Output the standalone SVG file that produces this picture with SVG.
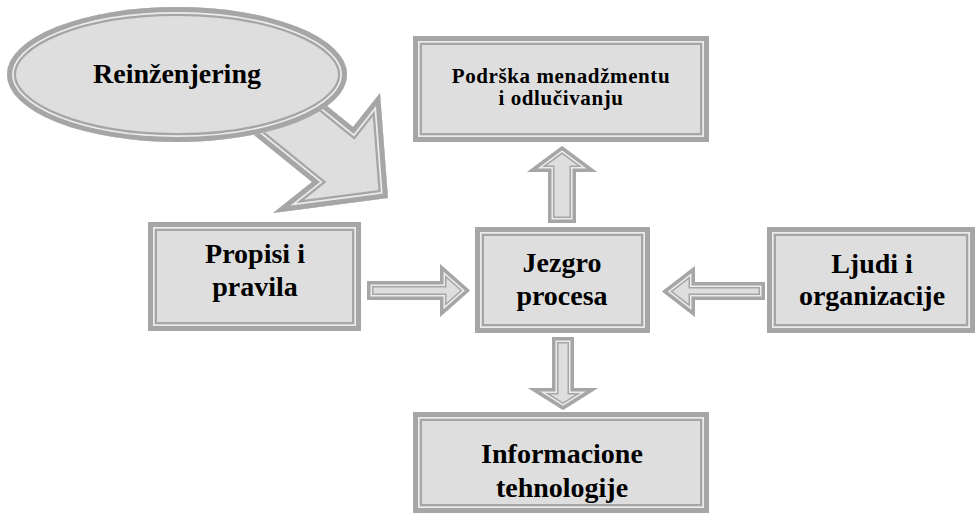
<svg xmlns="http://www.w3.org/2000/svg" width="979" height="515" viewBox="0 0 979 515">
<style>
.f{fill:#dedede;stroke:#a6a6a6;stroke-width:18}
.l{fill:none;stroke:#ececec;stroke-width:13.4}
.o{fill:none;stroke:#a6a6a6;stroke-width:10}
.af{fill:#dedede;stroke:#a6a6a6;stroke-width:13}
.al{fill:none;stroke:#ececec;stroke-width:10}
.ao{fill:none;stroke:#a6a6a6;stroke-width:7}
text{font-family:"Liberation Serif","Times New Roman",serif;font-weight:bold;fill:#000;text-anchor:middle}
.t{font-size:28px}
.s{font-size:21px;letter-spacing:0.6px}
</style>
<defs>
<ellipse id="g-reing" cx="177" cy="74.5" rx="170" ry="67.5"/>
<polygon id="g-curve" points="300,84 353,127 380,93 388,198 273,213 312,182 232,117"/>
<rect id="g-podrska" x="413" y="36" width="296" height="106"/>
<rect id="g-propisi" x="148" y="222" width="213" height="109"/>
<rect id="g-jezgro" x="475" y="227" width="175" height="106"/>
<rect id="g-ljudi" x="767" y="227" width="208" height="106"/>
<rect id="g-info" x="413" y="412" width="296" height="101"/>
<polygon id="g-right" points="367,281 440,281 440,264 470,290.5 440,317 440,300 367,300"/>
<polygon id="g-left" points="765,282 695,282 695,266 662,291.5 695,317 695,300 765,300"/>
<polygon id="g-up" points="548,223 548,172 527,172 562,146 597,172 576,172 576,223"/>
<polygon id="g-down" points="552,337 574,337 574,388 598,388 563,410 528,388 552,388"/>
<clipPath id="c-reing"><use href="#g-reing"/></clipPath>
<clipPath id="c-curve"><use href="#g-curve"/></clipPath>
<clipPath id="c-podrska"><use href="#g-podrska"/></clipPath>
<clipPath id="c-propisi"><use href="#g-propisi"/></clipPath>
<clipPath id="c-jezgro"><use href="#g-jezgro"/></clipPath>
<clipPath id="c-ljudi"><use href="#g-ljudi"/></clipPath>
<clipPath id="c-info"><use href="#g-info"/></clipPath>
<clipPath id="c-right"><use href="#g-right"/></clipPath>
<clipPath id="c-left"><use href="#g-left"/></clipPath>
<clipPath id="c-up"><use href="#g-up"/></clipPath>
<clipPath id="c-down"><use href="#g-down"/></clipPath>
</defs>
<rect x="0" y="0" width="979" height="515" fill="#fff"/>
<g id="connectors">
<g id="arrow-reing" clip-path="url(#c-curve)"><use href="#g-curve" class="f"/><use href="#g-curve" class="l"/><use href="#g-curve" class="o"/></g>
<g id="arrow-propisi-jezgro" clip-path="url(#c-right)"><use href="#g-right" class="af"/><use href="#g-right" class="al"/><use href="#g-right" class="ao"/></g>
<g id="arrow-ljudi-jezgro" clip-path="url(#c-left)"><use href="#g-left" class="af"/><use href="#g-left" class="al"/><use href="#g-left" class="ao"/></g>
<g id="arrow-jezgro-podrska" clip-path="url(#c-up)"><use href="#g-up" class="af"/><use href="#g-up" class="al"/><use href="#g-up" class="ao"/></g>
<g id="arrow-jezgro-info" clip-path="url(#c-down)"><use href="#g-down" class="af"/><use href="#g-down" class="al"/><use href="#g-down" class="ao"/></g>
</g>
<g id="reinzenjering">
<g clip-path="url(#c-reing)"><use href="#g-reing" class="f"/><use href="#g-reing" class="l"/><use href="#g-reing" class="o"/></g>
<text class="t" x="177" y="83">Reinženjering</text>
</g>
<g id="podrska">
<g clip-path="url(#c-podrska)"><use href="#g-podrska" class="f"/><use href="#g-podrska" class="l"/><use href="#g-podrska" class="o"/></g>
<text class="s" x="561" y="83">Podrška menadžmentu</text>
<text class="s" x="561" y="105">i odlučivanju</text>
</g>
<g id="propisi">
<g clip-path="url(#c-propisi)"><use href="#g-propisi" class="f"/><use href="#g-propisi" class="l"/><use href="#g-propisi" class="o"/></g>
<text class="t" x="255" y="263">Propisi i</text>
<text class="t" x="255" y="296">pravila</text>
</g>
<g id="jezgro">
<g clip-path="url(#c-jezgro)"><use href="#g-jezgro" class="f"/><use href="#g-jezgro" class="l"/><use href="#g-jezgro" class="o"/></g>
<text class="t" x="562" y="272">Jezgro</text>
<text class="t" x="562" y="305">procesa</text>
</g>
<g id="ljudi">
<g clip-path="url(#c-ljudi)"><use href="#g-ljudi" class="f"/><use href="#g-ljudi" class="l"/><use href="#g-ljudi" class="o"/></g>
<text class="t" x="872" y="273">Ljudi i</text>
<text class="t" x="872" y="305">organizacije</text>
</g>
<g id="informacione">
<g clip-path="url(#c-info)"><use href="#g-info" class="f"/><use href="#g-info" class="l"/><use href="#g-info" class="o"/></g>
<text class="t" x="562" y="463">Informacione</text>
<text class="t" x="562" y="497">tehnologije</text>
</g>
</svg>
